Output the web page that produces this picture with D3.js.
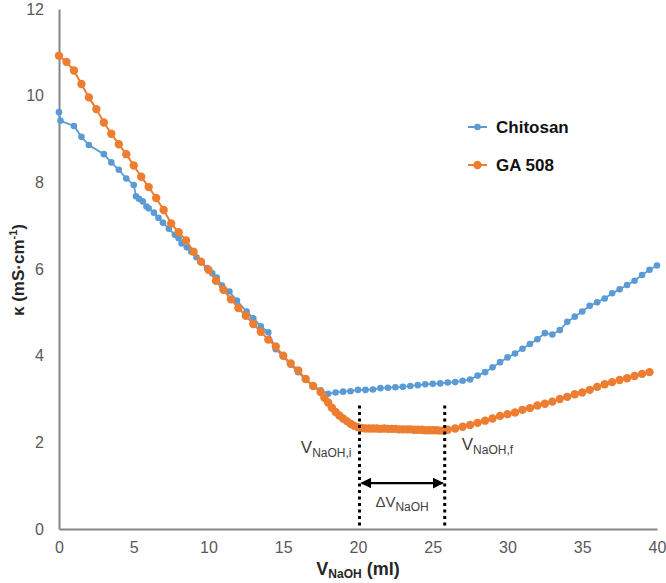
<!DOCTYPE html>
<html><head><meta charset="utf-8">
<script src="https://cdn.jsdelivr.net/npm/d3@7"></script>
<style>
html,body{margin:0;padding:0;background:#fff;}
svg{display:block;font-family:"Liberation Sans",Arial,sans-serif;}
</style></head>
<body>
<svg id="c" width="666" height="583"></svg>
<script>
// ---- data ----
const seriesNames = ["Chitosan", "GA 508"];
const chitosanX = [0,0.1,1.0,1.5,2.0,3.0,3.5,4.0,4.5,5.0,5.15,5.35,5.6,5.85,6.0,6.35,6.65,6.95,7.35,7.75,8.0,8.2,8.55,8.85,9.2,9.55,9.9,10.25,10.55,10.9,11.4,11.9,12.55,13.0,13.5,14.0,14.5,15.0,15.5,16.0,16.5,17.0,17.5,18.0,18.5,19.0,19.5,20.0,20.5,21.0,21.5,22.0,22.5,23.0,23.5,24.0,24.5,25.0,25.5,26.0,26.5,27.0,27.5,28.0,28.5,29.0,29.5,30.0,30.5,31.0,31.5,32.0,32.5,33.0,33.5,34.0,34.5,35.0,35.5,36.0,36.5,37.0,37.5,38.0,38.5,39.0,39.5,40.0];
const chitosanY = [9.62,9.42,9.30,9.05,8.86,8.65,8.46,8.29,8.09,7.94,7.68,7.62,7.56,7.44,7.40,7.30,7.18,7.07,6.93,6.79,6.71,6.59,6.50,6.40,6.27,6.15,6.02,5.90,5.80,5.62,5.48,5.27,5.02,4.86,4.68,4.54,4.15,3.98,3.79,3.62,3.45,3.30,3.20,3.12,3.15,3.17,3.18,3.21,3.21,3.22,3.25,3.26,3.27,3.28,3.30,3.32,3.34,3.35,3.36,3.38,3.39,3.42,3.45,3.54,3.62,3.73,3.85,3.96,4.05,4.16,4.27,4.38,4.52,4.49,4.59,4.78,4.90,5.02,5.15,5.23,5.32,5.44,5.53,5.63,5.73,5.86,5.98,6.08];
const ga508X = [0,0.5,1.0,1.5,2.0,2.5,3.0,3.5,4.0,4.5,5.0,5.5,6.0,6.5,7.0,7.5,8.0,8.5,9.0,9.5,10.0,10.5,11.0,11.5,12.0,12.5,13.0,13.5,14.0,14.5,15.0,15.5,16.0,16.5,17.0,17.5,17.75,18.0,18.25,18.5,18.75,19.0,19.25,19.5,19.75,20.0,20.25,20.5,20.75,21.0,21.25,21.5,21.75,22.0,22.25,22.5,22.75,23.0,23.25,23.5,23.75,24.0,24.25,24.5,24.75,25.0,25.25,25.5,25.75,26.0,26.5,27.0,27.5,28.0,28.5,29.0,29.5,30.0,30.5,31.0,31.5,32.0,32.5,33.0,33.5,34.0,34.5,35.0,35.5,36.0,36.5,37.0,37.5,38.0,38.5,39.0,39.5];
const ga508Y = [10.92,10.78,10.58,10.27,9.96,9.69,9.38,9.12,8.88,8.65,8.39,8.13,7.89,7.64,7.36,7.05,6.85,6.66,6.40,6.17,5.98,5.73,5.52,5.30,5.10,4.92,4.73,4.55,4.37,4.21,4.00,3.82,3.66,3.46,3.30,3.16,3.03,2.92,2.80,2.70,2.62,2.55,2.49,2.43,2.38,2.35,2.33,2.32,2.32,2.32,2.32,2.31,2.32,2.31,2.31,2.31,2.30,2.30,2.30,2.30,2.29,2.29,2.29,2.28,2.28,2.28,2.28,2.27,2.27,2.29,2.32,2.36,2.40,2.45,2.50,2.55,2.61,2.65,2.69,2.75,2.79,2.85,2.89,2.94,3.00,3.05,3.11,3.15,3.21,3.28,3.34,3.39,3.44,3.48,3.53,3.58,3.62];
const xTicks = [0,5,10,15,20,25,30,35,40];
const yTicks = [0,2,4,6,8,10,12];
const vInitial = 20.1, vFinal = 25.8;   // dotted markers (ml)
const dottedTop = 2.85, arrowLevel = 1.06; // in κ units

// ---- scales ----
const svg = d3.select("#c");
const x = d3.scaleLinear().domain([0,40]).range([59,657]);
const y = d3.scaleLinear().domain([0,12]).range([529,9]);
const axisColor = "#858585", textColor = "#595959";
const blue = "#5B9BD5", orange = "#ED7D31";

// axes
const xAxis = svg.append("g").attr("transform",`translate(0,${y(0)})`)
  .call(d3.axisBottom(x).tickValues(xTicks).tickSize(0).tickPadding(13).tickFormat(d3.format("d")));
const yAxis = svg.append("g").attr("transform",`translate(${x(0)},0)`)
  .call(d3.axisLeft(y).tickValues(yTicks).tickSize(0).tickPadding(15).tickFormat(d3.format("d")));
[xAxis,yAxis].forEach(g=>{
  g.select(".domain").attr("stroke",axisColor).attr("stroke-width",2);
  g.selectAll("text").attr("fill",textColor).attr("font-size",16).attr("font-family","Liberation Sans, Arial, sans-serif");
});

// axis titles
const xt = svg.append("text").attr("x",358).attr("y",575).attr("text-anchor","middle")
  .attr("font-weight","bold").attr("fill","#262626").attr("font-size",18);
xt.append("tspan").text("V");
xt.append("tspan").attr("font-size",12).attr("dy",3).text("NaOH");
xt.append("tspan").attr("dy",-3).text(" (ml)");

const yt = svg.append("text").attr("transform","translate(24,270) rotate(-90)").attr("text-anchor","middle")
  .attr("font-weight","bold").attr("fill","#262626").attr("font-size",17);
yt.append("tspan").text("κ (mS·cm");
yt.append("tspan").attr("font-size",11).attr("dy",-7).text("-1");
yt.append("tspan").attr("dy",7).text(")");

// series
const chitosan = chitosanX.map((v,i)=>[v,chitosanY[i]]);
const ga508 = ga508X.map((v,i)=>[v,ga508Y[i]]);
const line = d3.line().x(d=>x(d[0])).y(d=>y(d[1]));

svg.append("path").datum(chitosan).attr("d",line).attr("fill","none").attr("stroke",blue).attr("stroke-width",1.75);
svg.append("g").selectAll("circle").data(chitosan).join("circle")
  .attr("cx",d=>x(d[0])).attr("cy",d=>y(d[1])).attr("r",3.3).attr("fill",blue);

svg.append("path").datum(ga508).attr("d",line).attr("fill","none").attr("stroke",orange).attr("stroke-width",2);
svg.append("g").selectAll("circle").data(ga508).join("circle")
  .attr("cx",d=>x(d[0])).attr("cy",d=>y(d[1])).attr("r",4.2).attr("fill",orange);

// annotations: dotted lines
[vInitial,vFinal].forEach(v=>{
  svg.append("line").attr("x1",x(v)).attr("x2",x(v)).attr("y1",y(dottedTop)).attr("y2",y(0))
    .attr("stroke","#000").attr("stroke-width",3).attr("stroke-dasharray","3,3.5");
});
// double arrow
const defs = svg.append("defs");
defs.append("marker").attr("id","ah").attr("viewBox","0 0 10 10").attr("refX",9).attr("refY",5)
  .attr("markerWidth",5).attr("markerHeight",5).attr("markerUnits","strokeWidth").attr("orient","auto-start-reverse")
  .append("path").attr("d","M0,0 L10,5 L0,10 z").attr("fill","#000");
svg.append("line").attr("x1",x(vInitial)+2).attr("x2",x(vFinal)-2).attr("y1",y(arrowLevel)).attr("y2",y(arrowLevel))
  .attr("stroke","#000").attr("stroke-width",2.2).attr("marker-start","url(#ah)").attr("marker-end","url(#ah)");

function subLabel(xp, yp, main, sub, anchor){
  const t = svg.append("text").attr("x",xp).attr("y",yp).attr("text-anchor",anchor)
    .attr("fill","#404040").attr("font-size",17);
  t.append("tspan").text(main);
  t.append("tspan").attr("font-size",12).attr("dy",4).text(sub);
  return t;
}
subLabel(x(vInitial)-8, 453, "V", "NaOH,i", "end");
subLabel(x(vFinal)+17, 450, "V", "NaOH,f", "start");
subLabel((x(vInitial)+x(vFinal))/2, 507, "ΔV", "NaOH", "middle").attr("font-size",15);

// legend
const legend = svg.append("g");
seriesNames.forEach((name,i)=>{
  const col = i===0 ? blue : orange;
  const ly = 127 + i*38;
  legend.append("line").attr("x1",468).attr("x2",487).attr("y1",ly).attr("y2",ly).attr("stroke",col).attr("stroke-width",2);
  legend.append("circle").attr("cx",477.5).attr("cy",ly).attr("r",i===0?3.3:4.2).attr("fill",col);
  legend.append("text").attr("x",496).attr("y",ly+6).attr("font-weight","bold").attr("font-size",17)
    .attr("fill","#111").text(name);
});
</script>
</body></html>
